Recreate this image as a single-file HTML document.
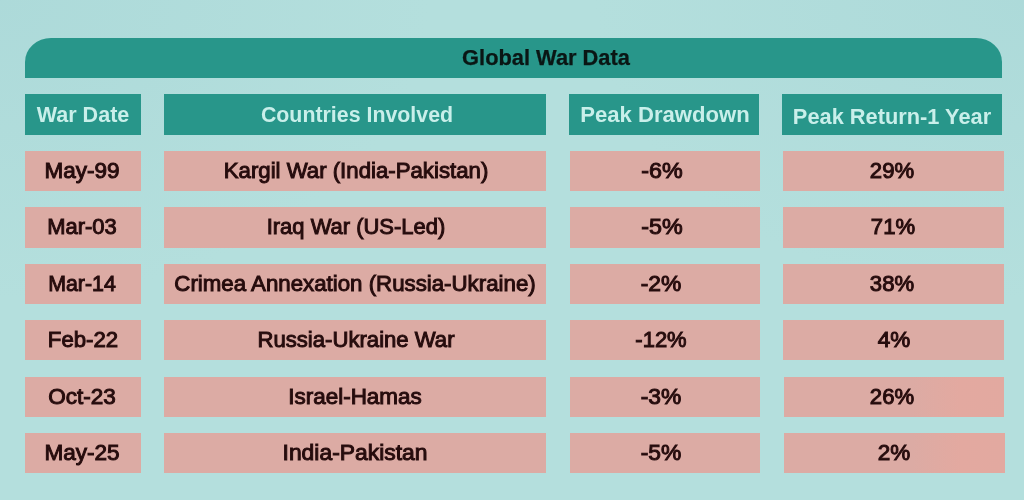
<!DOCTYPE html>
<html><head><meta charset="utf-8"><title>Global War Data</title>
<style>
html,body{margin:0;padding:0;}
body{width:1024px;height:500px;overflow:hidden;background:radial-gradient(ellipse 42% 60% at 0% 0%,rgba(166,213,214,0.5),rgba(166,213,214,0) 100%),radial-gradient(ellipse 42% 60% at 100% 0%,rgba(166,213,214,0.5),rgba(166,213,214,0) 100%),#b4dfdd;font-family:"Liberation Sans",Arial,sans-serif;position:relative;}
.abs{position:absolute;filter:blur(0.4px);}
.banner{left:24.6px;top:37.55px;width:977.1px;height:40.9px;background:#28968a;border-radius:26px 26px 0 0 / 24px 24px 0 0;}
.t{position:absolute;white-space:nowrap;line-height:1;filter:blur(0.4px);}
.title{font-weight:700;font-size:21.8px;color:#0a1614;-webkit-text-stroke:0.25px #0a1614;}
.h{background:#28968a;top:94.2px;height:40.4px;}
.ht{font-weight:700;font-size:21.6px;color:#c9efea;}
.c{background:#dcaba4;height:40.4px;}
.sm{background:linear-gradient(to right,#dcaba4 0%,#dcaba4 58%,#e3a9a0 80%,#e2a9a0 100%);}
.d{font-weight:400;font-size:21.1px;color:#260c0d;-webkit-text-stroke:0.95px #260c0d;}

</style></head><body>
<div class="abs banner"></div>
<div class="abs h" style="left:24.5px;width:116.75px;"></div>
<div class="abs h" style="left:164.25px;width:382.00px;"></div>
<div class="abs h" style="left:568.75px;width:190.50px;"></div>
<div class="abs h" style="left:781.5px;width:220.75px;"></div>
<div class="abs c" style="left:24.50px;top:150.8px;width:116.75px;"></div>
<div class="abs c" style="left:164.25px;top:150.8px;width:382.00px;"></div>
<div class="abs c" style="left:570.25px;top:150.8px;width:189.50px;"></div>
<div class="abs c" style="left:783.00px;top:150.8px;width:220.50px;"></div>
<div class="abs c" style="left:24.50px;top:207.25px;width:116.75px;"></div>
<div class="abs c" style="left:164.25px;top:207.25px;width:382.00px;"></div>
<div class="abs c" style="left:570.25px;top:207.25px;width:189.50px;"></div>
<div class="abs c" style="left:783.00px;top:207.25px;width:220.50px;"></div>
<div class="abs c" style="left:24.50px;top:263.75px;width:116.75px;"></div>
<div class="abs c" style="left:164.25px;top:263.75px;width:382.00px;"></div>
<div class="abs c" style="left:570.25px;top:263.75px;width:189.50px;"></div>
<div class="abs c" style="left:783.00px;top:263.75px;width:220.50px;"></div>
<div class="abs c" style="left:24.50px;top:320.0px;width:116.75px;"></div>
<div class="abs c" style="left:164.25px;top:320.0px;width:382.00px;"></div>
<div class="abs c" style="left:570.25px;top:320.0px;width:189.50px;"></div>
<div class="abs c" style="left:783.40px;top:320.0px;width:220.50px;"></div>
<div class="abs c" style="left:24.50px;top:376.8px;width:116.75px;"></div>
<div class="abs c" style="left:164.25px;top:376.8px;width:382.00px;"></div>
<div class="abs c" style="left:570.25px;top:376.8px;width:189.50px;"></div>
<div class="abs c sm" style="left:783.80px;top:376.8px;width:220.50px;"></div>
<div class="abs c" style="left:24.50px;top:433.0px;width:116.75px;"></div>
<div class="abs c" style="left:164.25px;top:433.0px;width:382.00px;"></div>
<div class="abs c" style="left:570.25px;top:433.0px;width:189.50px;"></div>
<div class="abs c sm" style="left:784.00px;top:433.0px;width:220.50px;"></div>
<div id="tt" class="t title" style="left:546.00px;top:46.65px;transform-origin:50% 18.25px;transform:translateX(-50%) scale(1.0013,1.0);">Global War Data</div>
<div id="h0" class="t ht" style="left:83.12px;top:103.80px;transform-origin:50% 18.00px;transform:translateX(-50%) scale(0.9978,1.05);">War Date</div>
<div id="h1" class="t ht" style="left:356.63px;top:103.80px;transform-origin:50% 18.00px;transform:translateX(-50%) scale(0.9886,1.05);">Countries Involved</div>
<div id="h2" class="t ht" style="left:664.75px;top:103.80px;transform-origin:50% 18.00px;transform:translateX(-50%) scale(1.0233,1.05);">Peak Drawdown</div>
<div id="h3" class="t ht" style="left:891.63px;top:106.30px;transform-origin:50% 18.00px;transform:translateX(-50%) scale(1.0092,1.05);">Peak Return-1 Year</div>
<div id="d00" class="t d" style="left:81.75px;top:159.81px;transform-origin:50% 18.49px;transform:translateX(-50%) scale(1.0677,1.025);">May-99</div>
<div id="d01" class="t d" style="left:356.00px;top:159.81px;transform-origin:50% 18.49px;transform:translateX(-50%) scale(1.0530,1.025);">Kargil War (India-Pakistan)</div>
<div id="d02" class="t d" style="left:661.75px;top:159.81px;transform-origin:50% 18.49px;transform:translateX(-50%) scale(1.1042,1.025);">-6%</div>
<div id="d03" class="t d" style="left:892.38px;top:159.81px;transform-origin:50% 18.49px;transform:translateX(-50%) scale(1.0490,1.025);">29%</div>
<div id="d10" class="t d" style="left:82.25px;top:216.26px;transform-origin:50% 18.49px;transform:translateX(-50%) scale(1.0402,1.025);">Mar-03</div>
<div id="d11" class="t d" style="left:356.00px;top:216.26px;transform-origin:50% 18.49px;transform:translateX(-50%) scale(1.0414,1.025);">Iraq War (US-Led)</div>
<div id="d12" class="t d" style="left:661.75px;top:216.26px;transform-origin:50% 18.49px;transform:translateX(-50%) scale(1.1042,1.025);">-5%</div>
<div id="d13" class="t d" style="left:892.88px;top:216.26px;transform-origin:50% 18.49px;transform:translateX(-50%) scale(1.0484,1.025);">71%</div>
<div id="d20" class="t d" style="left:81.75px;top:272.76px;transform-origin:50% 18.49px;transform:translateX(-50%) scale(1.0124,1.025);">Mar-14</div>
<div id="d21" class="t d" style="left:355.38px;top:272.76px;transform-origin:50% 18.49px;transform:translateX(-50%) scale(1.0557,1.025);">Crimea Annexation (Russia-Ukraine)</div>
<div id="d22" class="t d" style="left:661.00px;top:272.76px;transform-origin:50% 18.49px;transform:translateX(-50%) scale(1.0821,1.025);">-2%</div>
<div id="d23" class="t d" style="left:892.38px;top:272.76px;transform-origin:50% 18.49px;transform:translateX(-50%) scale(1.0490,1.025);">38%</div>
<div id="d30" class="t d" style="left:82.50px;top:329.01px;transform-origin:50% 18.49px;transform:translateX(-50%) scale(1.0524,1.025);">Feb-22</div>
<div id="d31" class="t d" style="left:355.62px;top:329.01px;transform-origin:50% 18.49px;transform:translateX(-50%) scale(1.0484,1.025);">Russia-Ukraine War</div>
<div id="d32" class="t d" style="left:661.25px;top:329.01px;transform-origin:50% 18.49px;transform:translateX(-50%) scale(1.0423,1.025);">-12%</div>
<div id="d33" class="t d" style="left:893.88px;top:329.01px;transform-origin:50% 18.49px;transform:translateX(-50%) scale(1.0670,1.025);">4%</div>
<div id="d40" class="t d" style="left:82.25px;top:385.81px;transform-origin:50% 18.49px;transform:translateX(-50%) scale(1.0678,1.025);">Oct-23</div>
<div id="d41" class="t d" style="left:354.62px;top:385.81px;transform-origin:50% 18.49px;transform:translateX(-50%) scale(1.0645,1.025);">Israel-Hamas</div>
<div id="d42" class="t d" style="left:661.00px;top:385.81px;transform-origin:50% 18.49px;transform:translateX(-50%) scale(1.0821,1.025);">-3%</div>
<div id="d43" class="t d" style="left:892.38px;top:385.81px;transform-origin:50% 18.49px;transform:translateX(-50%) scale(1.0490,1.025);">26%</div>
<div id="d50" class="t d" style="left:82.00px;top:442.01px;transform-origin:50% 18.49px;transform:translateX(-50%) scale(1.0696,1.025);">May-25</div>
<div id="d51" class="t d" style="left:354.75px;top:442.01px;transform-origin:50% 18.49px;transform:translateX(-50%) scale(1.0840,1.025);">India-Pakistan</div>
<div id="d52" class="t d" style="left:661.00px;top:442.01px;transform-origin:50% 18.49px;transform:translateX(-50%) scale(1.0821,1.025);">-5%</div>
<div id="d53" class="t d" style="left:894.00px;top:442.01px;transform-origin:50% 18.49px;transform:translateX(-50%) scale(1.0667,1.025);">2%</div>
</body></html>
